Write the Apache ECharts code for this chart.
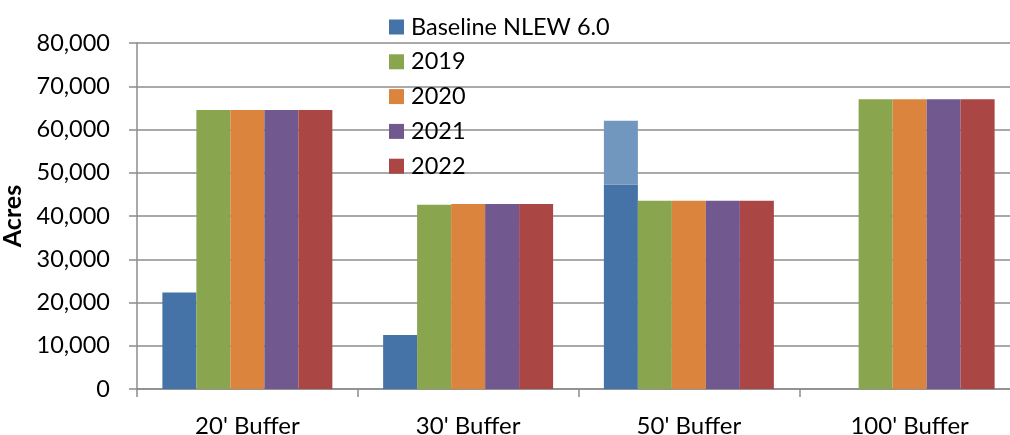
<!DOCTYPE html>
<html>
<head>
<meta charset="utf-8">
<script src="https://cdn.jsdelivr.net/npm/echarts@6/dist/echarts.min.js"></script>
<style>html,body{margin:0;padding:0;background:#fff;}#c{width:1010px;height:435px;}</style>
</head>
<body>
<div id="c"></div>
<script>
const categories = ["20' Buffer", "30' Buffer", "50' Buffer", "100' Buffer"];
const seriesNames = ["Baseline NLEW 6.0", "2019", "2020", "2021", "2022"];
const baseline = [22300, 12500, 47200, 0];
const baselineUpper = [0, 0, 14800, 0];
const v2019 = [64500, 42600, 43500, 67000];
const v2020 = [64500, 42800, 43500, 67000];
const v2021 = [64500, 42800, 43500, 67000];
const v2022 = [64500, 42800, 43500, 67000];
const yTicks = [0, 10000, 20000, 30000, 40000, 50000, 60000, 70000, 80000];

const colors = ['#4572A7', '#89A54E', '#DB843D', '#71588F', '#AA4643'];
const font = 'Lato, "Open Sans", sans-serif';
const chart = echarts.init(document.getElementById('c'), null, {renderer: 'canvas'});
const valuesList = [v2019, v2020, v2021, v2022];
const series = [
  {name: seriesNames[0], type: 'bar', stack: 'base', data: baseline, itemStyle: {color: colors[0]}, barGap: '0%', barCategoryGap: '23%'},
  {name: 'upper', type: 'bar', stack: 'base', data: baselineUpper, itemStyle: {color: '#7297BF'}, barGap: '0%', barCategoryGap: '23%'}
];
valuesList.forEach((vals, i) => {
  series.push({name: seriesNames[i + 1], type: 'bar', data: vals, itemStyle: {color: colors[i + 1]}, barGap: '0%', barCategoryGap: '23%'});
});
chart.setOption({
  animation: false,
  color: colors,
  grid: {left: 137, right: -10, top: 43, bottom: 46, containLabel: false, outerBoundsMode: 'none'},
  legend: {
    orient: 'vertical', left: 384, top: 10,
    data: seriesNames,
    icon: 'rect', itemWidth: 15, itemHeight: 15, itemGap: 10.8,
    textStyle: {fontFamily: font, fontSize: 23.5, color: '#000', padding: [0, 0, 0, 2]}
  },
  xAxis: {
    type: 'category', data: categories,
    axisLine: {lineStyle: {color: '#8c8c8c', width: 1.5}},
    axisTick: {show: true, length: 8, lineStyle: {color: '#8c8c8c', width: 1.5}},
    axisLabel: {fontFamily: font, fontSize: 24, color: '#000', margin: 25}
  },
  yAxis: {
    type: 'value', min: 0, max: 80000, interval: 10000,
    name: 'Acres', nameLocation: 'middle', nameGap: 102, nameRotate: 90,
    nameTextStyle: {fontFamily: font, fontSize: 25, fontWeight: 'bold', color: '#000'},
    axisLine: {show: true, lineStyle: {color: '#8c8c8c', width: 1.5}},
    axisTick: {show: true, length: 8, lineStyle: {color: '#8c8c8c', width: 1.5}},
    splitLine: {lineStyle: {color: '#8c8c8c', width: 1.5}},
    axisLabel: {fontFamily: font, fontSize: 23.5, color: '#000', margin: 27,
      formatter: v => yTicks.includes(v) ? v.toLocaleString('en-US') : ''}
  },
  series: series
});
</script>
</body>
</html>
